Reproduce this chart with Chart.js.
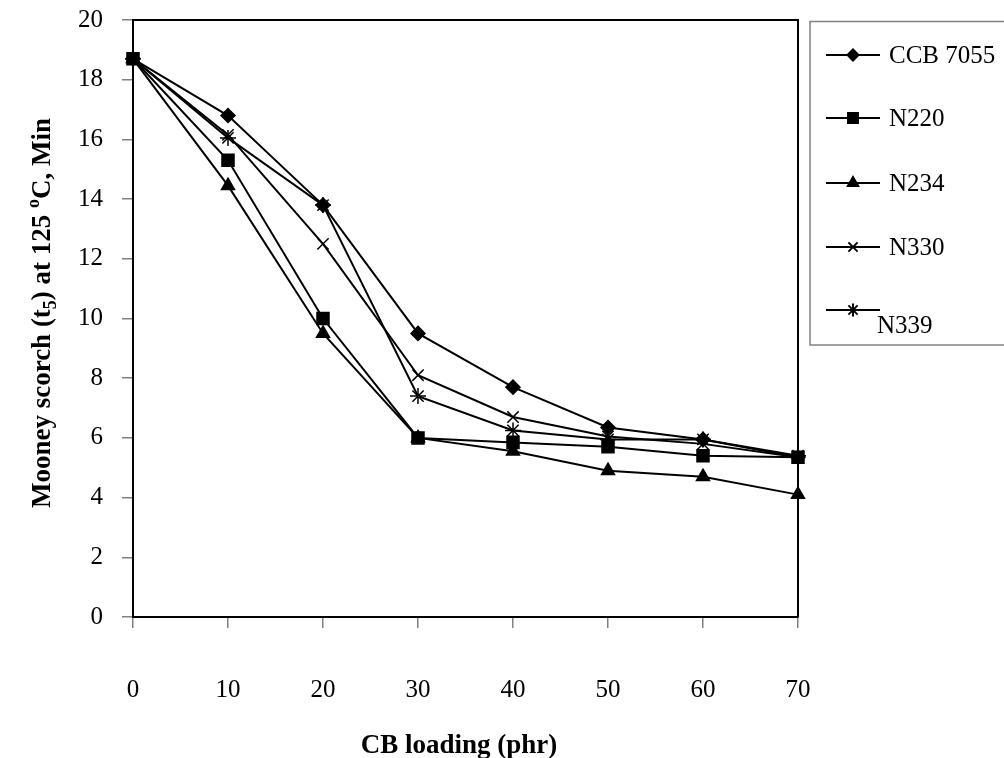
<!DOCTYPE html>
<html lang="en">
<head>
  <meta charset="UTF-8">
  <title>Mooney scorch vs CB loading</title>
  <script src="https://cdn.jsdelivr.net/npm/chart.js"></script>
  <style>
    html, body { margin: 0; padding: 0; background: #fff; }
    canvas { display: block; }
  </style>
</head>
<body>
<canvas id="scorchChart" width="1004" height="758"></canvas>

<script>
  // CB loading (phr) on the x axis
  const loadings = [0, 10, 20, 30, 40, 50, 60, 70];

  // Mooney scorch time t5 at 125 °C (min) for each carbon black grade
  const ccb7055 = [18.7, 16.8, 13.8, 9.5, 7.7, 6.35, 5.95, 5.35];
  const n220    = [18.7, 15.3, 10.0, 6.0, 5.85, 5.7, 5.4, 5.35];
  const n234    = [18.7, 14.45, 9.5, 6.0, 5.55, 4.9, 4.7, 4.1];
  const n330    = [18.7, 16.15, 12.5, 8.1, 6.7, 6.05, 5.8, 5.35];
  const n339    = [18.7, 16.05, 13.8, 7.4, 6.25, 5.95, 5.95, 5.4];

  const seriesNames = ["CCB 7055", "N220", "N234", "N330", "N339"];

  const serif = "'Liberation Serif', 'Times New Roman', serif";

  const makeSet = (label, data, style, radius) => ({
    label,
    data,
    borderColor: "#000",
    backgroundColor: "#000",
    borderWidth: 2,
    pointStyle: style,
    pointRadius: radius,
    pointBorderWidth: 1.5,
    pointBorderColor: "#000",
    pointBackgroundColor: "#000",
    tension: 0,
    fill: false
  });

  // legend box + plot frame + rotated y title with sub/superscripts
  const decorations = {
    id: "decorations",
    afterDraw(chart) {
      const ctx = chart.ctx;
      const area = chart.chartArea;

      // top and right edges of the plot frame
      ctx.save();
      ctx.strokeStyle = "#000";
      ctx.lineWidth = 2;
      ctx.beginPath();
      ctx.moveTo(area.left, area.top);
      ctx.lineTo(area.right, area.top);
      ctx.lineTo(area.right, area.bottom);
      ctx.stroke();
      ctx.restore();

      // legend
      ctx.save();
      ctx.strokeStyle = "#808080";
      ctx.lineWidth = 1.5;
      ctx.strokeRect(810, 21.5, 220, 323.5);
      const rows = [55, 118, 183, 247, 310];
      chart.data.datasets.forEach((ds, i) => {
        const y = rows[i];
        ctx.strokeStyle = "#000";
        ctx.lineWidth = 2;
        ctx.beginPath();
        ctx.moveTo(826, y);
        ctx.lineTo(880, y);
        ctx.stroke();
        ctx.fillStyle = "#000";
        Chart.helpers.drawPoint(ctx, {
          pointStyle: ds.pointStyle,
          radius: ds.pointRadius - 1.5,
          borderWidth: 1.5
        }, 853, y);
        ctx.fillStyle = "#000";
        ctx.font = "25px " + serif;
        ctx.textAlign = "left";
        if (i === rows.length - 1) {
          ctx.textBaseline = "alphabetic";
          ctx.fillText(ds.label, 877, 333);
        } else {
          ctx.textBaseline = "middle";
          ctx.fillText(ds.label, 889, y + 1);
        }
      });
      ctx.restore();

      // y axis title
      const parts = [
        { t: "Mooney scorch (t", s: 27, dy: 0 },
        { t: "5", s: 18, dy: 6 },
        { t: ") at 125 ", s: 27, dy: 0 },
        { t: "o", s: 18, dy: -11 },
        { t: "C, Min", s: 27, dy: 0 }
      ];
      ctx.save();
      ctx.fillStyle = "#000";
      ctx.textBaseline = "alphabetic";
      ctx.textAlign = "left";
      let total = 0;
      parts.forEach(p => {
        ctx.font = "bold " + p.s + "px " + serif;
        p.w = ctx.measureText(p.t).width;
        total += p.w;
      });
      ctx.translate(50, 313);
      ctx.rotate(-Math.PI / 2);
      let x = -total / 2;
      parts.forEach(p => {
        ctx.font = "bold " + p.s + "px " + serif;
        ctx.fillText(p.t, x, p.dy);
        x += p.w;
      });
      ctx.restore();

      // x axis title
      ctx.save();
      ctx.fillStyle = "#000";
      ctx.font = "bold 27px " + serif;
      ctx.textAlign = "center";
      ctx.textBaseline = "alphabetic";
      ctx.fillText("CB loading (phr)", 459, 753);
      ctx.restore();
    }
  };

  const canvas = document.getElementById("scorchChart");

  new Chart(canvas.getContext("2d"), {
    type: "line",
    data: {
      labels: loadings,
      datasets: [
        makeSet(seriesNames[0], ccb7055, "rectRot", 7),
        makeSet(seriesNames[1], n220, "rect", 8.5),
        makeSet(seriesNames[2], n234, "triangle", 7.5),
        makeSet(seriesNames[3], n330, "crossRot", 8),
        makeSet(seriesNames[4], n339, "star", 8)
      ]
    },
    options: {
      responsive: false,
      animation: false,
      events: [],
      layout: { padding: { top: 20, right: 206, left: 0, bottom: 0 } },
      plugins: {
        legend: { display: false },
        tooltip: { enabled: false }
      },
      scales: {
        x: {
          type: "category",
          offset: false,
          grid: { drawOnChartArea: false, color: "#808080", tickLength: 11, lineWidth: 1.5 },
          border: { color: "#000", width: 2 },
          ticks: {
            color: "#000",
            padding: 47,
            maxRotation: 0,
            font: { family: serif, size: 25 }
          },
          afterFit: scale => {
            scale.height = 141;
            scale.paddingLeft = 0;
            scale.paddingRight = 0;
          }
        },
        y: {
          min: 0,
          max: 20,
          grid: { drawOnChartArea: false, color: "#808080", tickLength: 11, lineWidth: 1.5 },
          border: { color: "#000", width: 2 },
          ticks: {
            stepSize: 2,
            color: "#000",
            padding: 19,
            font: { family: serif, size: 25 }
          },
          afterFit: scale => {
            scale.width = 133;
            scale.paddingTop = 0;
            scale.paddingBottom = 0;
          }
        }
      }
    },
    plugins: [decorations]
  });
</script>
</body>
</html>
